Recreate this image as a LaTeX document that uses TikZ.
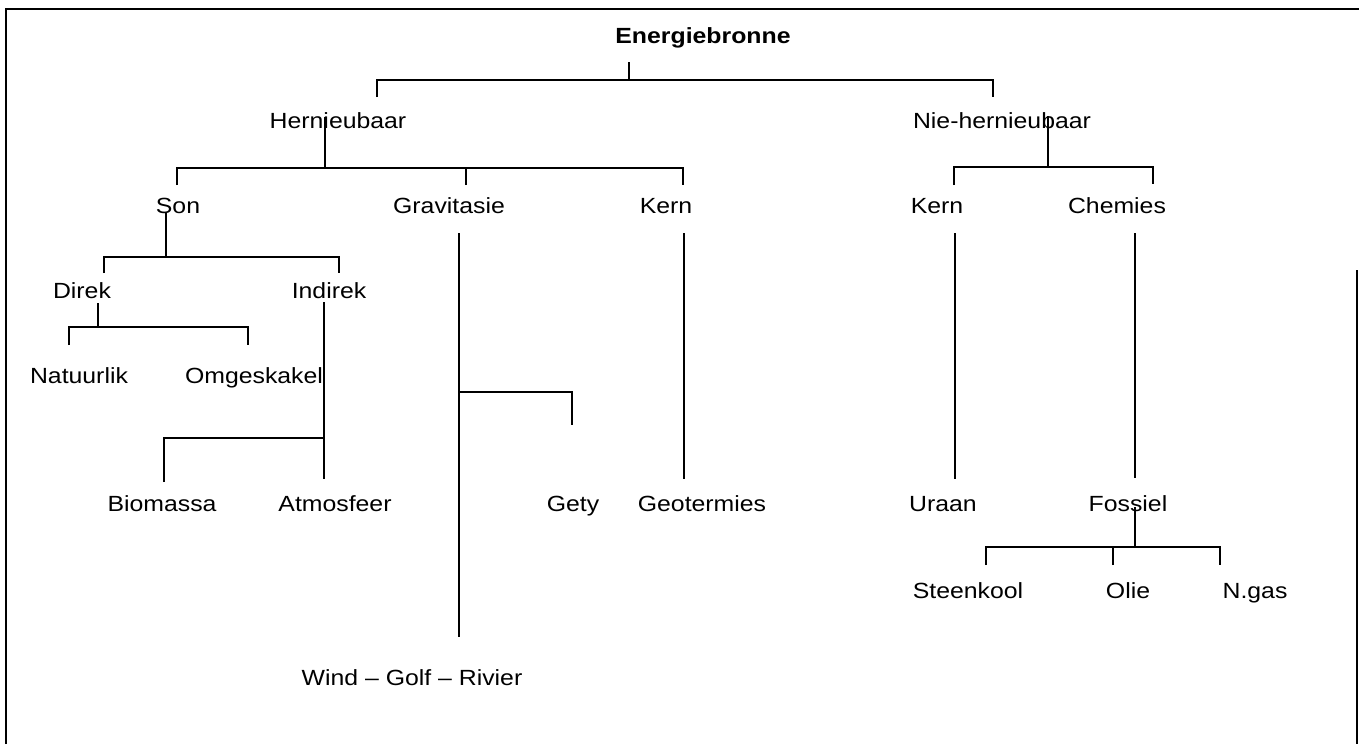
\documentclass[tikz,border=0pt]{standalone}
\usepackage{fontspec}
\setmainfont[FakeStretch=1.13]{Liberation Sans}

\tikzset{
    lbl/.style={font=\fontsize{12.5}{15}\selectfont, anchor=base, inner sep=0pt},
    hoof/.style={lbl, font=\fontsize{12.5}{15}\selectfont\bfseries},
    tak/.style={line width=1.1pt}
}

\begin{document}
\begin{tikzpicture}[x=0.02cm, y=-0.02cm]
    \useasboundingbox (0,0) rectangle (1359,744);
    \draw[line width=1.2pt] (6,744) -- (6,9) -- (1359,9);
    \draw[line width=1.2pt] (1357,270) -- (1357,744);

    \node[hoof] (bron) at (703,43) {Energiebronne};
    \node[lbl] (hern) at (338,128) {Hernieubaar};
    \node[lbl] (nie) at (1002,128) {Nie-hernieubaar};

    \node[lbl] (son) at (178,213) {Son};
    \node[lbl] (grav) at (449,213) {Gravitasie};
    \node[lbl] (kern) at (666,213) {Kern};
    \node[lbl] (kernb) at (937,213) {Kern};
    \node[lbl] (chem) at (1117,213) {Chemies};

    \node[lbl] (direk) at (82,298) {Direk};
    \node[lbl] (indirek) at (329,298) {Indirek};
    \node[lbl] (natuur) at (79,383) {Natuurlik};
    \node[lbl] (omges) at (254,383) {Omgeskakel};

    \node[lbl] (bio) at (162,511) {Biomassa};
    \node[lbl] (atmos) at (335,511) {Atmosfeer};
    \node[lbl] (gety) at (573,511) {Gety};
    \node[lbl] (geo) at (702,511) {Geotermies};
    \node[lbl] (uraan) at (943,511) {Uraan};
    \node[lbl] (fossiel) at (1128,511) {Fossiel};

    \node[lbl] (steen) at (968,598) {Steenkool};
    \node[lbl] (olie) at (1128,598) {Olie};
    \node[lbl] (ngas) at (1255,598) {N.gas};
    \node[lbl] (wind) at (412,685) {Wind -- Golf -- Rivier};

    % vertakkings
    \coordinate (bronV) at (629,62);  \coordinate (bronJ) at (629,80);
    \coordinate (hernD) at (377,97);  \coordinate (nieD) at (993,97);
    \draw[tak] (bronV) -- (bronJ);
    \draw[tak] (hernD) -- (hernD |- bronJ) -- (nieD |- bronJ) -- (nieD);

    \coordinate (hernV) at (325,117); \coordinate (hernJ) at (325,168);
    \coordinate (sonD) at (177,185);  \coordinate (gravD) at (466,185);
    \coordinate (kernD) at (683,185);
    \draw[tak] (hernV) -- (hernJ);
    \draw[tak] (sonD) -- (sonD |- hernJ) -- (kernD |- hernJ) -- (kernD);
    \draw[tak] (gravD) -- (gravD |- hernJ);

    \coordinate (nieV) at (1048,116); \coordinate (nieJ) at (1048,167);
    \coordinate (kernbD) at (954,185); \coordinate (chemD) at (1153,184);
    \draw[tak] (nieV) -- (nieJ);
    \draw[tak] (kernbD) -- (kernbD |- nieJ) -- (chemD |- nieJ) -- (chemD);

    \coordinate (sonV) at (166,212);  \coordinate (sonJ) at (166,257);
    \coordinate (direkD) at (104,273); \coordinate (indD) at (339,273);
    \draw[tak] (sonV) -- (sonJ);
    \draw[tak] (direkD) -- (direkD |- sonJ) -- (indD |- sonJ) -- (indD);

    \coordinate (direkV) at (98,303); \coordinate (direkJ) at (98,327);
    \coordinate (natD) at (69,345);   \coordinate (omgD) at (248,345);
    \draw[tak] (direkV) -- (direkJ);
    \draw[tak] (natD) -- (natD |- direkJ) -- (omgD |- direkJ) -- (omgD);

    \coordinate (indV) at (324,302);  \coordinate (indE) at (324,479);
    \coordinate (indJ) at (324,438);  \coordinate (bioD) at (164,482);
    \draw[tak] (indV) -- (indE);
    \draw[tak] (bioD) -- (bioD |- indJ) -- (indJ);

    \coordinate (gravV) at (459,233); \coordinate (gravE) at (459,637);
    \coordinate (gravJ) at (459,392); \coordinate (getyD) at (572,425);
    \draw[tak] (gravV) -- (gravE);
    \draw[tak] (gravJ) -- (getyD |- gravJ) -- (getyD);

    \coordinate (kernV) at (684,233); \coordinate (kernE) at (684,479);
    \draw[tak] (kernV) -- (kernE);
    \coordinate (kernbV) at (955,233); \coordinate (kernbE) at (955,479);
    \draw[tak] (kernbV) -- (kernbE);
    \coordinate (chemV) at (1135,233); \coordinate (chemE) at (1135,478);
    \draw[tak] (chemV) -- (chemE);

    \coordinate (fosV) at (1135,507); \coordinate (fosJ) at (1135,547);
    \coordinate (steenD) at (986,565); \coordinate (olieD) at (1113,565);
    \coordinate (ngasD) at (1220,565);
    \draw[tak] (fosV) -- (fosJ);
    \draw[tak] (steenD) -- (steenD |- fosJ) -- (ngasD |- fosJ) -- (ngasD);
    \draw[tak] (olieD) -- (olieD |- fosJ);
\end{tikzpicture}
\end{document}
